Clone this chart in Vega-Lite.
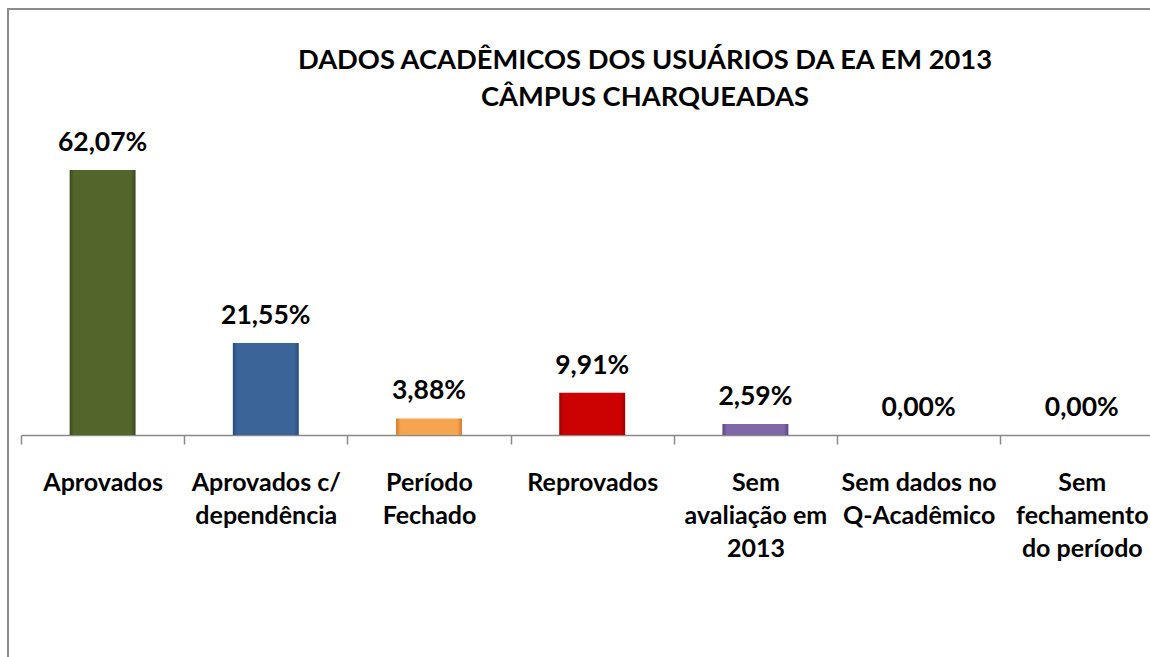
{
  "$schema": "https://vega.github.io/schema/vega-lite/v6.json",
  "width": 1162,
  "height": 668,
  "autosize": {"type": "none"},
  "padding": {"left": 8, "top": 9, "right": -20, "bottom": -20},
  "background": "white",
  "config": {"view": {"stroke": "#8c8c8c", "strokeWidth": 2}, "font": "Lato"},
  "title": {
    "text": ["DADOS ACADÊMICOS DOS USUÁRIOS DA EA EM 2013", "CÂMPUS CHARQUEADAS"],
    "anchor": "middle",
    "frame": "group",
    "font": "Lato",
    "fontSize": 27.3,
    "fontWeight": "bold",
    "color": "#000000",
    "lineHeight": 37,
    "dx": 56,
    "offset": -102
  },
  "data": {
    "values": [
      {"cat": "Aprovados", "v": 62.07, "t": "62,07%"},
      {"cat": "Aprovados c/|dependência", "v": 21.55, "t": "21,55%"},
      {"cat": "Período|Fechado", "v": 3.88, "t": "3,88%"},
      {"cat": "Reprovados", "v": 9.91, "t": "9,91%"},
      {"cat": "Sem|avaliação em|2013", "v": 2.59, "t": "2,59%"},
      {"cat": "Sem dados no|Q-Acadêmico", "v": 0, "t": "0,00%"},
      {"cat": "Sem|fechamento|do período", "v": 0, "t": "0,00%"}
    ]
  },
  "encoding": {
    "x": {
      "field": "cat",
      "type": "nominal",
      "sort": null,
      "scale": {"range": [13, 1155.4], "paddingInner": 0, "paddingOuter": 0},
      "axis": {
        "title": null,
        "orient": "bottom",
        "offset": -242,
        "labelAngle": 0,
        "labelExpr": "isValid(datum.value) ? split(datum.value, '|') : ''",
        "labelFont": "Lato",
        "labelFontSize": 25,
        "labelFontWeight": "bold",
        "labelColor": "#000000",
        "labelLineHeight": 33,
        "labelBaseline": "alphabetic",
        "labelPadding": 46,
        "labelOverlap": false,
        "labelLimit": 0,
        "tickBand": "extent",
        "tickSize": 9,
        "tickColor": "#898989",
        "tickWidth": 1.5,
        "domainColor": "#898989",
        "domainWidth": 1.5,
        "grid": false
      }
    },
    "y": {
      "field": "v",
      "type": "quantitative",
      "scale": {"domain": [0, 62.07], "range": [426, 161], "nice": false, "zero": true},
      "axis": null
    }
  },
  "layer": [
    {
      "mark": {"type": "bar", "width": {"band": 0.404}},
      "encoding": {
        "color": {
          "condition": [
            {"test": "datum.cat == 'Aprovados'", "value": {"gradient": "linear", "x1": 0, "x2": 1, "y1": 0, "y2": 0, "stops": [{"offset": 0, "color": "#3a4a1c"}, {"offset": 0.07, "color": "#52662b"}, {"offset": 0.93, "color": "#52662b"}, {"offset": 1, "color": "#3a4a1c"}]}},
            {"test": "datum.cat == 'Aprovados c/|dependência'", "value": {"gradient": "linear", "x1": 0, "x2": 1, "y1": 0, "y2": 0, "stops": [{"offset": 0, "color": "#2a4b78"}, {"offset": 0.07, "color": "#3b6599"}, {"offset": 0.93, "color": "#3b6599"}, {"offset": 1, "color": "#2a4b78"}]}},
            {"test": "datum.cat == 'Período|Fechado'", "value": {"gradient": "linear", "x1": 0, "x2": 1, "y1": 0, "y2": 0, "stops": [{"offset": 0, "color": "#d9782c"}, {"offset": 0.07, "color": "#f5a450"}, {"offset": 0.93, "color": "#f5a450"}, {"offset": 1, "color": "#d9782c"}]}},
            {"test": "datum.cat == 'Reprovados'", "value": {"gradient": "linear", "x1": 0, "x2": 1, "y1": 0, "y2": 0, "stops": [{"offset": 0, "color": "#a00000"}, {"offset": 0.07, "color": "#cc0202"}, {"offset": 0.93, "color": "#cc0202"}, {"offset": 1, "color": "#a00000"}]}}
          ],
          "value": {"gradient": "linear", "x1": 0, "x2": 1, "y1": 0, "y2": 0, "stops": [{"offset": 0, "color": "#5a4580"}, {"offset": 0.07, "color": "#8068a8"}, {"offset": 0.93, "color": "#8068a8"}, {"offset": 1, "color": "#5a4580"}]}
        }
      }
    },
    {
      "mark": {"type": "text", "baseline": "alphabetic", "dy": -19, "font": "Lato", "fontSize": 26.5, "fontWeight": "bold", "color": "#000000"},
      "encoding": {"text": {"field": "t"}}
    }
  ]
}
